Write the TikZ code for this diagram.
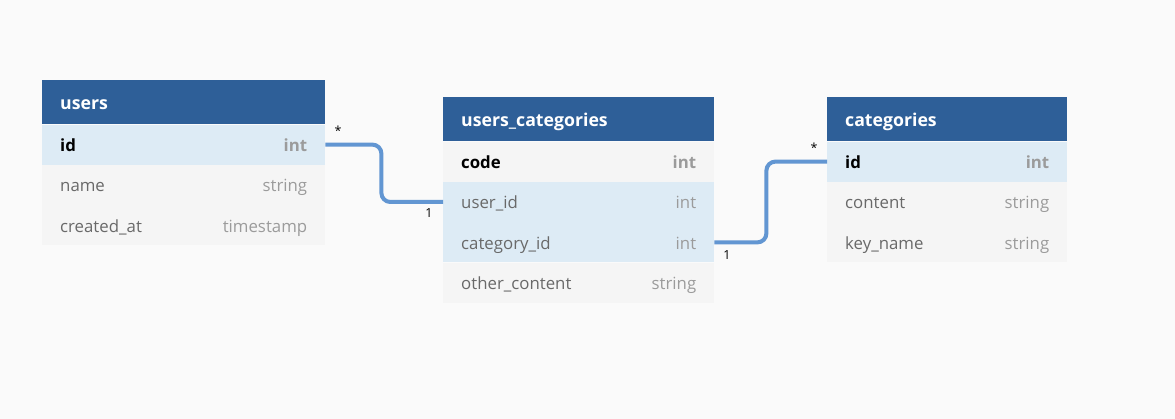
\documentclass[tikz,border=0pt]{standalone}
\usepackage{fontspec}
\setmainfont{Open Sans}
\usetikzlibrary{positioning}

\definecolor{bgpaper}{RGB}{250,250,250}
\definecolor{headblue}{RGB}{46,95,152}
\definecolor{keyblue}{RGB}{221,235,245}
\definecolor{rowgray}{RGB}{245,245,245}
\definecolor{namegray}{RGB}{105,105,105}
\definecolor{typegray}{RGB}{155,155,155}
\definecolor{linkblue}{RGB}{98,150,210}

\newcommand{\fld}[2]{\textcolor{namegray}{#1}\hfill\textcolor{typegray}{#2}}
\newcommand{\kfld}[2]{\textbf{#1}\hfill\textcolor{typegray}{\textbf{#2}}}

\tikzset{
	tblhead/.style = {anchor=north west, fill=headblue, text=white, inner xsep=18pt, inner ysep=0pt,
		minimum height=44pt, text height=14pt, text depth=0pt, align=left,
		font=\bfseries\fontsize{17.7}{20}\selectfont},
	tblrow/.style = {fill=rowgray, inner xsep=18pt, inner ysep=0pt, minimum height=40pt,
		text height=14pt, text depth=0pt, align=left, font=\fontsize{16.8}{19}\selectfont},
	keyrow/.style = {tblrow, fill=keyblue},
	link/.style = {line width=4pt, linkblue, rounded corners=9pt},
	card/.style = {font=\fontsize{12.5}{14}\selectfont, inner sep=0pt}
}

\begin{document}
\begin{tikzpicture}[x=1pt, y=-1pt]
	\fill[bgpaper] (0,0) rectangle (1175,419);

	% users
	\node[tblhead, text width=247pt] (users) at (42,80) {users};
	\node[keyrow, text width=247pt, below=0pt of users] (users-id) {\kfld{id}{int}};
	\node[tblrow, text width=247pt, below=0pt of users-id] (users-name) {\fld{name}{string}};
	\node[tblrow, text width=247pt, below=0pt of users-name] (users-created) {\fld{created\_at}{timestamp}};

	% users_categories
	\node[tblhead, text width=235pt] (uc) at (443,97) {users\_categories};
	\node[tblrow, text width=235pt, below=0pt of uc] (uc-code) {\kfld{code}{int}};
	\node[keyrow, text width=235pt, below=0pt of uc-code] (uc-user) {\fld{user\_id}{int}};
	\node[keyrow, text width=235pt, below=0pt of uc-user] (uc-cat) {\fld{category\_id}{int}};
	\node[tblrow, text width=235pt, below=0pt of uc-cat] (uc-other) {\fld{other\_content}{string}};

	% categories
	\node[tblhead, text width=204pt] (cat) at (827,97) {categories};
	\node[keyrow, text width=204pt, below=0pt of cat] (cat-id) {\kfld{id}{int}};
	\node[tblrow, text width=204pt, below=0pt of cat-id] (cat-content) {\fld{content}{string}};
	\node[tblrow, text width=204pt, below=0pt of cat-content] (cat-key) {\fld{key\_name}{string}};

	% references
	\draw[link] (users-id.east) -- ++(56,0) |- (uc-user.west);
	\draw[link] (uc-cat.east) -- ++(52,0) |- (cat-id.west);

	\node[card] (m1) at (338,131) {*};
	\node[card] (o1) at (429,213) {1};
	\node[card] (o2) at (727,255) {1};
	\node[card] (m2) at (814,148) {*};
\end{tikzpicture}
\end{document}
